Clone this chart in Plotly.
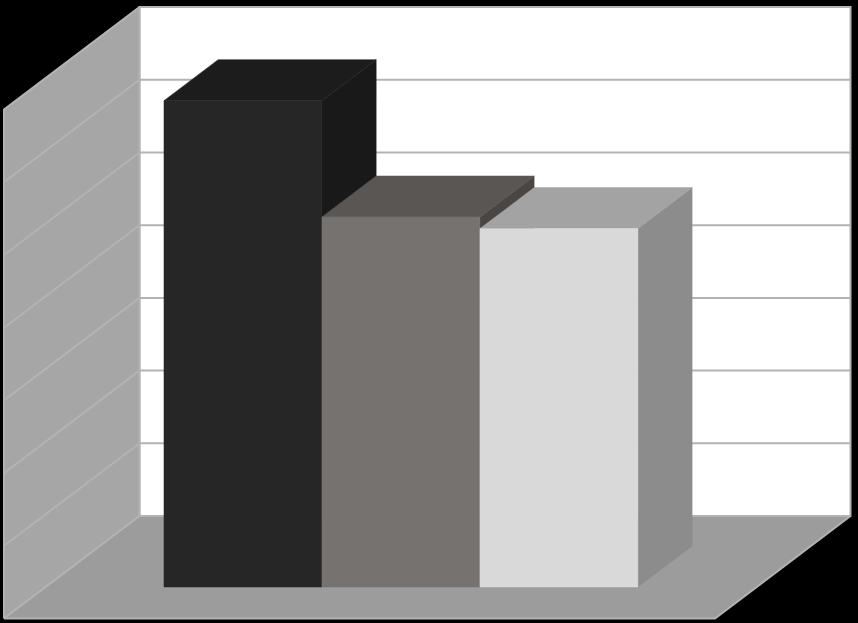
import plotly.graph_objects as go

# valores
series_values = [6.69, 5.09, 4.93]
grid_levels = [1, 2, 3, 4, 5, 6]
axis_max = 7

front_colors = ['#262626', '#767270', '#d9d9d9']
top_colors = ['#1c1c1c', '#5a5654', '#a3a3a3']
side_colors = ['#191919', '#4a4644', '#8c8c8c']

WALL = '#a6a6a6'
FLOOR = '#9c9c9c'
GRID = '#b3b3b3'

# projecao obliqua: x (0-1), valor, profundidade (0-1) -> coordenadas do eixo
X0, X_LEN, X_DEPTH = 4, 711, 135.5
Y0, Y_UNIT, Y_DEPTH = 618.5, 72.7, 102.5
BAR_X0, BAR_W = 0.1665, 0.2222
BAR_D0, BAR_D1 = 0.307, 0.707


def proj(x, v, d):
    return X0 + X_LEN * x + X_DEPTH * d, Y0 - Y_UNIT * v - Y_DEPTH * d


def poly(fig, pts, fill, line=None, width=0.5):
    xs, ys = zip(*[proj(*p) for p in pts + pts[:1]])
    fig.add_trace(go.Scatter(x=xs, y=ys, mode='lines', fill='toself', fillcolor=fill,
                             line=dict(color=line or fill, width=width),
                             hoverinfo='skip', showlegend=False))


def seg(fig, p1, p2, width):
    xs, ys = zip(proj(*p1), proj(*p2))
    fig.add_trace(go.Scatter(x=xs, y=ys, mode='lines', line=dict(color=GRID, width=width),
                             hoverinfo='skip', showlegend=False))


fig = go.Figure()

# paredes e piso
poly(fig, [(0, 0, 1), (1, 0, 1), (1, axis_max, 1), (0, axis_max, 1)], 'white', GRID, 2)
poly(fig, [(0, 0, 0), (0, 0, 1), (0, axis_max, 1), (0, axis_max, 0)], WALL, GRID, 2)
poly(fig, [(0, 0, 0), (1, 0, 0), (1, 0, 1), (0, 0, 1)], FLOOR, GRID, 2)

# linhas de grade
for level in grid_levels:
    seg(fig, (0, level, 0), (0, level, 1), 2)
    seg(fig, (0, level, 1), (1, level, 1), 2)

# barras
for i, val in enumerate(series_values):
    x1 = BAR_X0 + BAR_W * i
    x2 = x1 + BAR_W
    poly(fig, [(x2, 0, BAR_D0), (x2, 0, BAR_D1), (x2, val, BAR_D1), (x2, val, BAR_D0)], side_colors[i])
    poly(fig, [(x1, val, BAR_D0), (x2, val, BAR_D0), (x2, val, BAR_D1), (x1, val, BAR_D1)], top_colors[i])
    poly(fig, [(x1, 0, BAR_D0), (x2, 0, BAR_D0), (x2, val, BAR_D0), (x1, val, BAR_D0)], front_colors[i])

fig.update_layout(
    width=858, height=623,
    margin=dict(l=0, r=0, t=0, b=0),
    paper_bgcolor='black', plot_bgcolor='black',
    xaxis=dict(range=[0, 858], visible=False, fixedrange=True),
    yaxis=dict(range=[623, 0], visible=False, fixedrange=True),
)

# tira a margem padrao do body para a figura ocupar a janela toda
fig.write_html("out.html", config={'displayModeBar': False},
               post_script="document.body.style.margin='0';document.body.style.overflow='hidden';document.body.style.background='black';")
